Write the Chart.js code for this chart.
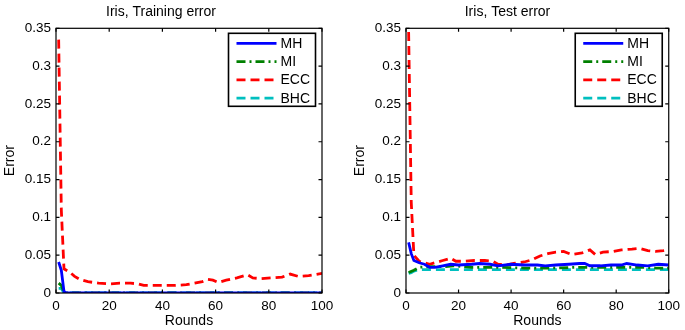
<!DOCTYPE html>
<html>
<head>
<meta charset="utf-8">
<script src="https://cdn.jsdelivr.net/npm/chart.js@4"></script>
<style>
  body { margin: 0; background: #fff; }
  #wrap { position: relative; width: 685px; height: 330px; }
  #wrap canvas { position: absolute; top: 0; }
</style>
</head>
<body>
<div id="wrap">
  <canvas id="train-chart" width="342" height="330" style="left:0"></canvas>
  <canvas id="test-chart" width="343" height="330" style="left:342px"></canvas>
</div>
<script>
// Series as [round, error] pairs
const seriesNames = ['MH', 'MI', 'ECC', 'BHC'];
const xTicks = [0, 20, 40, 60, 80, 100];
const yTicks = [0, 0.05, 0.1, 0.15, 0.2, 0.25, 0.3, 0.35];

const trainMH = [[1, 0.041], [2, 0.03], [3, 0.002], [4, 0], [100, 0]];
const trainMI = [[1, 0.013], [2, 0.01], [3, 0.001], [4, 0], [100, 0]];
const trainECC = [[1, 0.335], [2, 0.11], [3, 0.032], [5, 0.028], [7, 0.022], [9, 0.018], [12, 0.015],
    [16, 0.013], [20, 0.012], [24, 0.013], [28, 0.013], [31, 0.012], [33, 0.01], [37, 0.01], [41, 0.01],
    [45, 0.01], [49, 0.011], [52, 0.013], [55, 0.015], [57, 0.018], [59, 0.017], [61, 0.014], [64, 0.017],
    [68, 0.02], [72, 0.024], [74, 0.02], [77, 0.019], [81, 0.02], [85, 0.021], [88, 0.025], [91, 0.022],
    [95, 0.023], [100, 0.026]];
const trainBHC = [[1, 0.006], [2, 0.006], [3, 0], [100, 0]];

const testMH = [[1, 0.067], [2, 0.052], [3, 0.043], [5, 0.04], [7, 0.038], [9, 0.034], [11, 0.034],
    [14, 0.036], [17, 0.038], [20, 0.037], [25, 0.038], [28, 0.039], [32, 0.038], [35, 0.036], [40, 0.038],
    [45, 0.037], [50, 0.037], [53, 0.036], [57, 0.037], [62, 0.038], [66, 0.039], [68, 0.039], [70, 0.036],
    [74, 0.036], [78, 0.037], [82, 0.037], [84, 0.039], [88, 0.037], [92, 0.036], [96, 0.038], [100, 0.037]];
const testMI = [[1, 0.027], [3, 0.03], [5, 0.034], [10, 0.035], [15, 0.035], [18, 0.036], [25, 0.034],
    [35, 0.034], [45, 0.033], [50, 0.033], [55, 0.033], [65, 0.034], [75, 0.034], [85, 0.034], [90, 0.034],
    [95, 0.033], [100, 0.033]];
const testECC = [[1, 0.345], [2, 0.12], [3, 0.05], [5, 0.042], [7, 0.04], [9, 0.038], [11, 0.04],
    [14, 0.043], [17, 0.046], [19, 0.042], [22, 0.042], [26, 0.043], [30, 0.043], [33, 0.042], [35, 0.038],
    [38, 0.037], [41, 0.039], [45, 0.041], [48, 0.044], [51, 0.049], [54, 0.052], [57, 0.054], [60, 0.055],
    [63, 0.051], [67, 0.053], [70, 0.057], [72, 0.051], [75, 0.054], [79, 0.055], [82, 0.057], [86, 0.058],
    [89, 0.059], [92, 0.056], [95, 0.055], [98, 0.056], [100, 0.057]];
const testBHC = [[1, 0.026], [2, 0.027], [3, 0.029], [5, 0.031], [20, 0.031], [50, 0.031], [100, 0.031]];

const styles = [
    { color: '#0000ff', dash: [] },
    { color: '#008000', dash: [9, 4, 2, 4] },
    { color: '#ff0000', dash: [9, 5] },
    { color: '#00bfbf', dash: [9, 5] }
];

const FONT = "'Liberation Sans', Arial, sans-serif";

// Matlab-style box with inward ticks on all four sides, plus an inset legend
const boxPlugin = {
    id: 'box',
    afterDatasetsDraw(chart) {
        const ctx = chart.ctx;
        const a = chart.chartArea;
        const xs = chart.scales.x, ys = chart.scales.y;
        const tl = 3.5;
        ctx.save();
        ctx.strokeStyle = '#000';
        ctx.lineWidth = 1.2;
        ctx.strokeRect(a.left, a.top, a.right - a.left, a.bottom - a.top);
        ctx.beginPath();
        xTicks.forEach(v => {
            const px = xs.getPixelForValue(v);
            ctx.moveTo(px, a.bottom); ctx.lineTo(px, a.bottom - tl);
            ctx.moveTo(px, a.top); ctx.lineTo(px, a.top + tl);
        });
        yTicks.forEach(v => {
            const py = ys.getPixelForValue(v);
            ctx.moveTo(a.left, py); ctx.lineTo(a.left + tl, py);
            ctx.moveTo(a.right, py); ctx.lineTo(a.right - tl, py);
        });
        ctx.stroke();

        // legend
        const w = 87, h = 73;
        const lx = a.right - 6.5 - w, ly = a.top + 5;
        ctx.fillStyle = '#fff';
        ctx.fillRect(lx, ly, w, h);
        ctx.lineWidth = 1.6;
        ctx.strokeRect(lx, ly, w, h);
        ctx.font = '14px ' + FONT;
        ctx.textBaseline = 'middle';
        chart.data.datasets.forEach((ds, i) => {
            const y = ly + 10 + i * 18.3;
            ctx.strokeStyle = ds.borderColor;
            ctx.lineWidth = 2.8;
            ctx.setLineDash(ds.borderDash);
            ctx.beginPath();
            ctx.moveTo(lx + 8, y);
            ctx.lineTo(lx + 48, y);
            ctx.stroke();
            ctx.setLineDash([]);
            ctx.fillStyle = '#000';
            ctx.fillText(ds.label, lx + 52, y + 0.5);
        });
        ctx.restore();
    }
};

function makeChart(id, title, series, axisWidth, rightPad, yTitlePad) {
    const ctx = document.getElementById(id).getContext('2d');
    return new Chart(ctx, {
        type: 'line',
        data: {
            datasets: series.map((pts, i) => ({
                label: seriesNames[i],
                data: pts.map(p => ({ x: p[0], y: p[1] })),
                borderColor: styles[i].color,
                borderDash: styles[i].dash,
                borderWidth: 2.8,
                pointRadius: 0,
                tension: 0,
                fill: false
            }))
        },
        options: {
            responsive: false,
            animation: false,
            layout: { padding: { left: 0, right: rightPad, top: 0, bottom: 0 } },
            plugins: {
                legend: { display: false },
                tooltip: { enabled: false },
                title: {
                    display: true,
                    text: title,
                    color: '#000',
                    font: { family: FONT, size: 14, weight: 'normal' },
                    padding: { top: 3.5, bottom: 8 }
                }
            },
            scales: {
                x: {
                    type: 'linear',
                    min: 0,
                    max: 100,
                    grid: { display: false, drawTicks: false },
                    border: { display: false },
                    afterBuildTicks: s => { s.ticks = xTicks.map(v => ({ value: v })); },
                    afterFit: s => { s.height = 37; },
                    ticks: { color: '#000', padding: 5, maxRotation: 0, font: { family: FONT, size: 13.5 } },
                    title: {
                        display: true, text: 'Rounds', color: '#000',
                        padding: { top: 0, bottom: 0 },
                        font: { family: FONT, size: 14 }
                    }
                },
                y: {
                    type: 'linear',
                    min: 0,
                    max: 0.35,
                    grid: { display: false, drawTicks: false },
                    border: { display: false },
                    afterBuildTicks: s => { s.ticks = yTicks.map(v => ({ value: v })); },
                    afterFit: s => { s.width = axisWidth; },
                    ticks: {
                        color: '#000', padding: 5, font: { family: FONT, size: 13.5 },
                        callback: v => String(Number(v.toFixed(2)))
                    },
                    title: {
                        display: true, text: 'Error', color: '#000',
                        padding: { top: yTitlePad, bottom: 0 },
                        font: { family: FONT, size: 14 }
                    }
                }
            }
        },
        plugins: [boxPlugin]
    });
}

makeChart('train-chart', 'Iris, Training error', [trainMH, trainMI, trainECC, trainBHC], 56, 20, 2);
makeChart('test-chart', 'Iris, Test error', [testMH, testMI, testECC, testBHC], 64, 12, 10);
</script>
</body>
</html>
